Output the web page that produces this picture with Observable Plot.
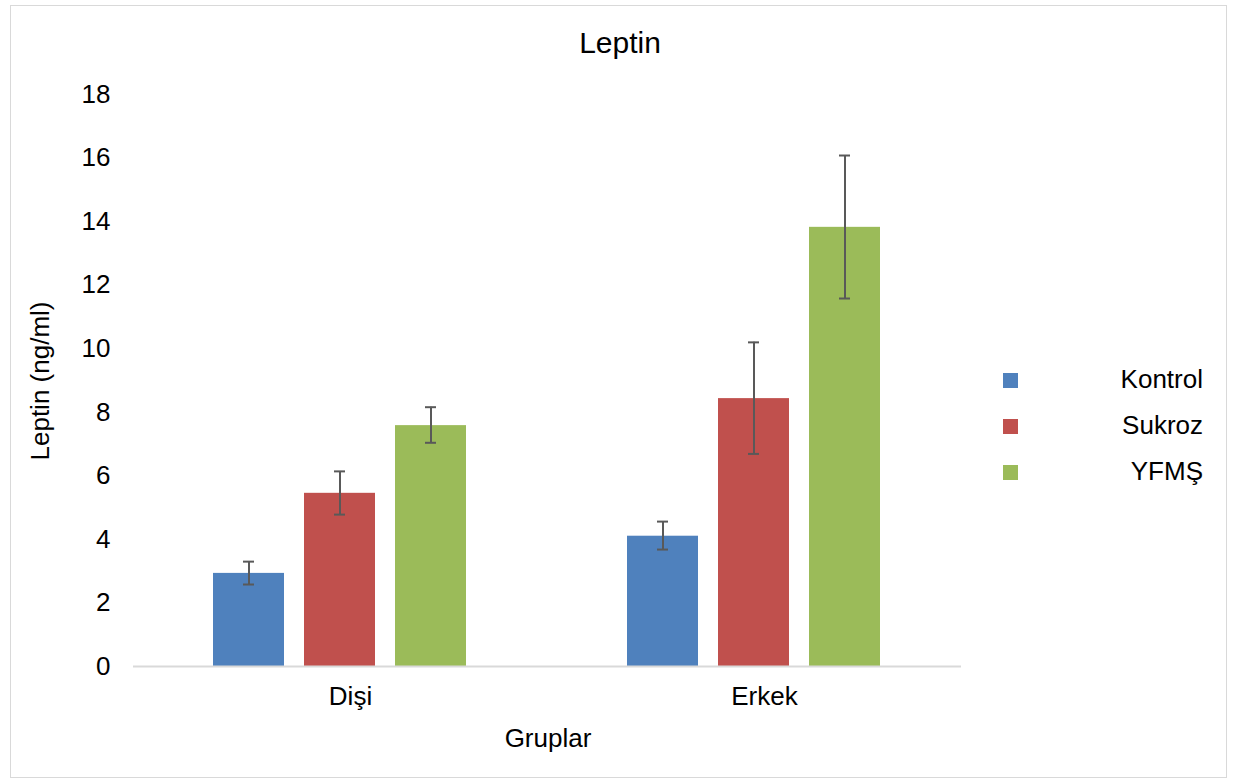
<!DOCTYPE html>
<html>
<head>
<meta charset="utf-8">
<script src="https://cdn.jsdelivr.net/npm/d3@7"></script>
<script src="https://cdn.jsdelivr.net/npm/@observablehq/plot@0.6"></script>
<style>
  html, body { margin: 0; padding: 0; background: #fff; }
  #wrap { position: relative; width: 1235px; height: 783px; font-family: "Liberation Sans", Arial, sans-serif; }
  #frame { position: absolute; left: 10px; top: 5px; width: 1217px; height: 773px; border: 1px solid #d9d9d9; box-sizing: border-box; pointer-events: none; }
  #title { position: absolute; left: 0; top: 26px; width: 1240px; text-align: center; font-size: 30px; color: #000; }
  #legend { position: absolute; left: 1003px; top: 359px; width: 200px; font-size: 26px; color: #000; }
  .row { position: relative; height: 46px; }
  .sw { position: absolute; left: 0; top: 14px; width: 15px; height: 15px; }
  .lab { position: absolute; right: 0; top: 5px; text-align: right; }
  #xlabel { position: absolute; left: 448px; width: 200px; top: 723px; text-align: center; font-size: 26px; }
  #ylabel { position: absolute; left: 40px; top: 381px; font-size: 26px; transform: translate(-50%, -50%) rotate(-90deg); white-space: nowrap; }
  #chart { position: absolute; left: 0; top: 0; }
</style>
</head>
<body>
<div id="wrap">
  <div id="chart"></div>
  <div id="title">Leptin</div>
  <div id="xlabel">Gruplar</div>
  <div id="ylabel">Leptin (ng/ml)</div>
  <div id="legend"></div>
  <div id="frame"></div>
</div>
<script>
const groups = ["Dişi", "Erkek"];
const series = ["Kontrol", "Sukroz", "YFMŞ"];
const colors = ["#4F81BD", "#C0504D", "#9BBB59"];
const means = {
  "Dişi":  [2.93, 5.45, 7.58],
  "Erkek": [4.10, 8.43, 13.82]
};
const errUpper = {
  "Dişi":  [3.30, 6.14, 8.16],
  "Erkek": [4.56, 10.20, 16.08]
};
const errLower = {
  "Dişi":  [2.58, 4.78, 7.04],
  "Erkek": [3.68, 6.69, 11.58]
};
const yTicks = [0, 2, 4, 6, 8, 10, 12, 14, 16, 18];

const data = [];
for (const g of groups) {
  series.forEach((s, i) => {
    data.push({group: g, series: s, value: means[g][i], hi: errUpper[g][i], lo: errLower[g][i]});
  });
}

const chart = Plot.plot({
  width: 1235,
  height: 783,
  marginLeft: 133,
  marginRight: 274,
  marginTop: 94,
  marginBottom: 117,
  style: {fontFamily: "Liberation Sans, Arial, sans-serif", fontSize: "26px", color: "#000", background: "transparent"},
  fx: {domain: groups, padding: 0, label: null},
  x: {domain: series, paddingInner: 0.217, paddingOuter: 0.87, axis: null},
  y: {domain: [0, 18], ticks: yTicks, label: null},
  color: {domain: series, range: colors},
  marks: [
    Plot.barY(data, {fx: "group", x: "series", y: "value", fill: "series"}),
    Plot.ruleY([0], {stroke: "#d9d9d9", strokeWidth: 2}),
    Plot.ruleX(data, {fx: "group", x: "series", y1: "lo", y2: "hi", stroke: "#595959", strokeWidth: 2}),
    Plot.tickY(data, {fx: "group", x: "series", y: "hi", stroke: "#595959", strokeWidth: 2, insetLeft: 30, insetRight: 30}),
    Plot.tickY(data, {fx: "group", x: "series", y: "lo", stroke: "#595959", strokeWidth: 2, insetLeft: 30, insetRight: 30}),
    Plot.axisY({ticks: yTicks, tickSize: 0, tickPadding: 23, label: null, fontSize: 26}),
    Plot.axisFx({anchor: "bottom", tickSize: 0, tickPadding: 20, label: null, fontSize: 26, dx: 10})
  ]
});
document.getElementById("chart").appendChild(chart);

const legend = document.getElementById("legend");
series.forEach((s, i) => {
  const row = document.createElement("div");
  row.className = "row";
  row.innerHTML = `<div class="sw" style="background:${colors[i]}"></div><div class="lab">${s}</div>`;
  legend.appendChild(row);
});
</script>
</body>
</html>
